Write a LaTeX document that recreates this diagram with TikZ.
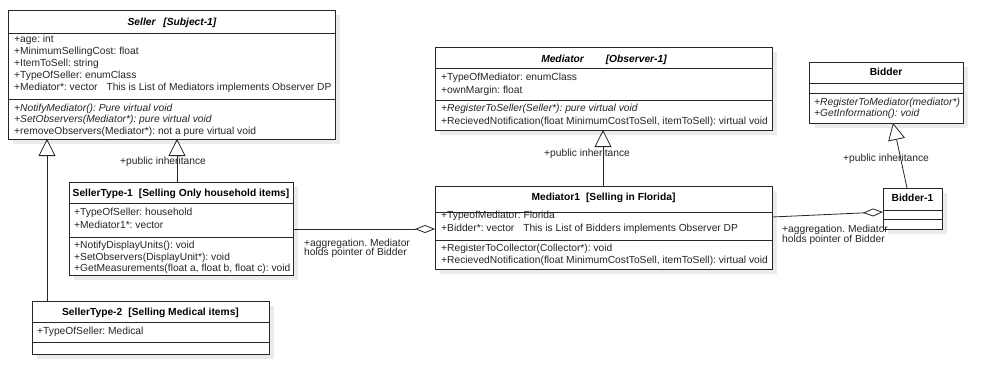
\documentclass[tikz,border=0pt]{standalone}
\usepackage{fontspec}
\setmainfont{Liberation Sans}
\usetikzlibrary{arrows.meta,shadows}
\frenchspacing

\tikzset{
  classbox/.style={draw=black!85, line width=0.8pt, fill=white, inner sep=0pt, outer sep=0pt,
    anchor=north west,
    drop shadow={shadow xshift=5pt, shadow yshift=-5pt, fill=black!8, opacity=1}},
  sepline/.style={draw=black!85, line width=0.8pt},
  txt/.style={font=\fontsize{10.25}{12}\selectfont, text=black!85, inner sep=0pt, anchor=base west},
  ttl/.style={font=\fontsize{10.25}{12}\selectfont\bfseries, text=black, inner sep=0pt, anchor=base},
  inherit/.style={draw=black!85, line width=0.8pt, -{Triangle[open, width=17pt, length=17pt, fill=white]}},
  aggr/.style={draw=black!85, line width=0.8pt, -{Diamond[open, width=8pt, length=20pt, fill=white]}},
}

\newcommand\umlclass[7]{%
  \node[classbox, minimum width={(#4-#2)*1pt}, minimum height={(#5-#3)*1pt}] (#1) at (#2,#3) {};
  \draw[sepline] (#2,#6) -- (#4,#6);
  \draw[sepline] (#2,#7) -- (#4,#7);
}
\newcommand\umlline[4]{\node[txt] (#1) at (#2,#3) {#4};}

\begin{document}
\begin{tikzpicture}[x=1pt,y=-1pt]
\fill[white] (0,0) rectangle (1000,391);
\useasboundingbox (0,0) rectangle (1000,391);

% ---------- classes ----------
\umlclass{seller}{8}{10}{335}{139}{33}{99}
\umlclass{st1}{69}{182}{293}{275}{203}{237}
\umlclass{st2}{32}{301}{269}{354}{322}{342}
\umlclass{med}{435}{47}{772}{130}{68}{100}
\umlclass{med1}{435}{186}{772}{269}{212}{240}
\umlclass{bid}{809}{62}{963}{123}{83}{93}
\umlclass{bid1}{883}{188}{942}{229}{210}{219}

% ---------- Seller ----------
\node[ttl, font=\fontsize{10.25}{12}\selectfont\bfseries\itshape] (sellerT) at (172,25) {Seller\hspace{5pt} [Subject-1]};
\umlline{sa1}{14}{42.3}{+age: int}
\umlline{sa2}{14}{54.4}{+MinimumSellingCost: float}
\umlline{sa3}{14}{66.5}{+ItemToSell: string}
\umlline{sa4}{14}{78.6}{+TypeOfSeller: enumClass}
\umlline{sa5}{14}{90.7}{+Mediator*: vector\hspace{6pt} This is List of Mediators implements Observer DP}
\umlline{sm1}{14}{111.3}{\itshape +NotifyMediator(): Pure virtual void}
\umlline{sm2}{14}{122.9}{\itshape +SetObservers(Mediator*): pure virtual void}
\umlline{sm3}{14}{134.5}{+removeObservers(Mediator*): not a pure virtual void}

% ---------- SellerType-1 ----------
\node[ttl] (st1T) at (181,196.6) {SellerType-1\hspace{3.2pt} [Selling Only household items]};
\umlline{t1a1}{74}{215.5}{+TypeOfSeller: household}
\umlline{t1a2}{74}{228.3}{+Mediator1*: vector}
\umlline{t1m1}{74}{248.3}{+NotifyDisplayUnits(): void}
\umlline{t1m2}{74}{260.2}{+SetObservers(DisplayUnit*): void}
\umlline{t1m3}{74}{271.8}{+GetMeasurements(float a, float b, float c): void}

% ---------- SellerType-2 ----------
\node[ttl] (st2T) at (150.5,315.3) {SellerType-2\hspace{3.2pt} [Selling Medical items]};
\umlline{t2a1}{37}{334.3}{+TypeOfSeller: Medical}

% ---------- Mediator ----------
\node[ttl, font=\fontsize{10.25}{12}\selectfont\bfseries\itshape] (medT) at (604,62.3) {Mediator\hspace{19pt} [Observer-1]};
\umlline{ma1}{441}{80}{+TypeOfMediator: enumClass}
\umlline{ma2}{441}{93.3}{+ownMargin: float}
\umlline{mm1}{441}{111.6}{\itshape +RegisterToSeller(Seller*): pure virtual void}
\umlline{mm2}{441}{124.3}{+RecievedNotification(float MinimumCostToSell, itemToSell): virtual void}

% ---------- Mediator1 ----------
\node[ttl] (med1T) at (603.5,200) {Mediator1\hspace{3.2pt} [Selling in Florida]};
\umlline{na1}{441}{218.3}{+TypeofMediator: Florida}
\umlline{na2}{441}{231.3}{+Bidder*: vector\hspace{6pt} This is List of Bidders implements Observer DP}
\umlline{nm1}{441}{251.6}{+RegisterToCollector(Collector*): void}
\umlline{nm2}{441}{263.3}{+RecievedNotification(float MinimumCostToSell, itemToSell): virtual void}

% ---------- Bidder ----------
\node[ttl] (bidT) at (886,75.6) {Bidder};
\umlline{bm1}{814}{105}{\itshape +RegisterToMediator(mediator*)}
\umlline{bm2}{814}{116.6}{\itshape +GetInformation(): void}

% ---------- Bidder-1 ----------
\node[ttl] (bid1T) at (912.5,201.6) {Bidder-1};

% ---------- labels ----------
\umlline{lab1}{120}{164.3}{+public inheritance}
\umlline{lab2}{544}{156.3}{+public inheritance}
\umlline{lab3}{843}{161.3}{+public inheritance}
\umlline{lab4a}{304}{246}{+aggregation. Mediator}
\umlline{lab4b}{304}{255.5}{holds pointer of Bidder}
\umlline{lab5a}{782}{232.3}{+aggregation. Mediator}
\umlline{lab5b}{782}{242}{holds pointer of Bidder}

% ---------- connectors ----------
\draw[inherit] (st1.north -| 177,0) -- (seller.south -| 177,0);
\draw[inherit] (st2.north -| 47,0) -- (seller.south -| 47,0);
\draw[inherit] (med1.north -| 603,0) -- (med.south -| 603,0);
\draw[inherit] (bid1.north -| 907,0) -- (bid.south -| 893,0);
\draw[aggr] (st1.east |- 0,229) -- (med1.west |- 0,229);
\draw[aggr] (med1.east |- 0,217) -- (bid1.west |- 0,212);
\end{tikzpicture}
\end{document}
